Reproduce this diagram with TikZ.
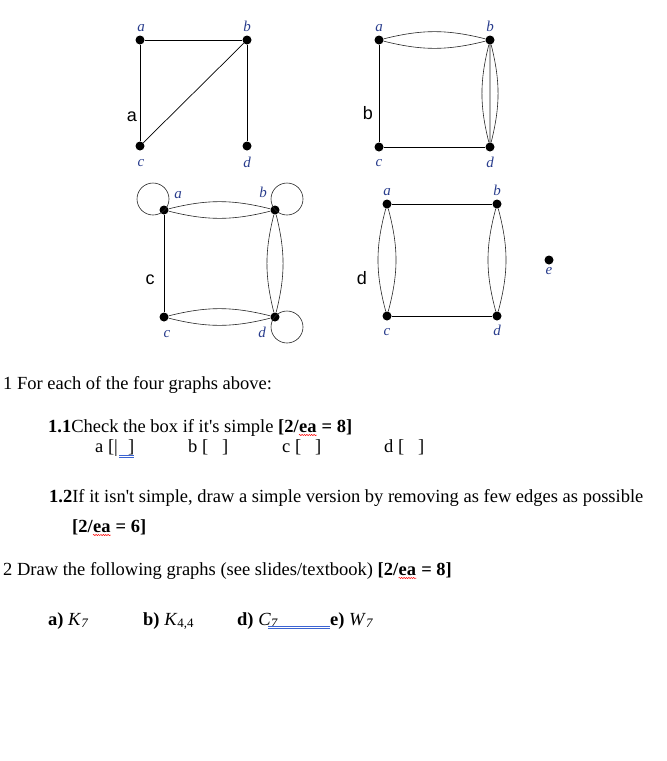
\documentclass[tikz,border=0pt]{standalone}
\usepackage{fontspec}
\setmainfont{Liberation Serif}
\newfontfamily\labelfont{Liberation Sans}
\usetikzlibrary{decorations.pathmorphing}
\definecolor{vlabel}{RGB}{40,60,140}
\definecolor{linkblue}{RGB}{60,100,210}

\tikzset{
  vertex/.style={circle,fill=black,inner sep=0pt,minimum size=9pt},
  vname/.style={font=\fontsize{15}{15}\selectfont\itshape,text=vlabel,inner sep=0pt},
  gname/.style={font=\labelfont\fontsize{18}{18}\selectfont,inner sep=0pt},
  plain/.style={line width=0.9pt},
  multi/.style={line width=0.6pt,draw=black!85},
  txt/.style={anchor=base west,inner sep=0pt,font=\fontsize{18.5}{22}\selectfont},
  uline/.style={linkblue,line width=0.6pt},
}
\newcommand{\spellerr}[1]{\tikz[baseline=(w.base)]{\node[inner sep=0pt] (w) {#1};
  \draw[red,line width=0.5pt,decorate,decoration={snake,amplitude=0.6pt,segment length=2.4pt}]
    ([yshift=-3pt]w.base west) -- ([yshift=-3pt]w.base east);}}

\begin{document}
\begin{tikzpicture}[x=1pt,y=-1pt]
\useasboundingbox (0,0) rectangle (667,761);
% graph a
\node[vertex] (a1) at (140,40) {}; \node[vertex] (b1) at (247,40) {};
\node[vertex] (c1) at (140,146) {}; \node[vertex] (d1) at (247,146) {};
\node[vname] at (141,28) {a}; \node[vname] at (247,26) {b};
\node[vname] at (141,163) {c}; \node[vname] at (247,162) {d};
\node[gname] (ga) at (132,117) {a};
\draw[plain] (c1) -- (a1) -- (b1) -- (d1);
\draw[plain,line width=0.7pt] (c1) -- (b1);
% graph b
\node[vertex] (a2) at (379,40) {}; \node[vertex] (b2) at (490,40) {};
\node[vertex] (c2) at (379,147) {}; \node[vertex] (d2) at (490,147) {};
\node[vname] at (379,28) {a}; \node[vname] at (490,26) {b};
\node[vname] at (379,163) {c}; \node[vname] at (490,162) {d};
\node[gname] (gb) at (368,113) {b};
\draw[plain] (a2) -- (c2) -- (d2);
\draw[multi] (a2) to[bend left=14] (b2) (a2) to[bend right=14] (b2);
\draw[multi] (b2) -- (d2) (b2) to[bend left=14] (d2) (b2) to[bend right=14] (d2);
% graph c
\node[vertex] (a3) at (164,210) {}; \node[vertex] (b3) at (275,210) {};
\node[vertex] (c3) at (164,317) {}; \node[vertex] (d3) at (275,317) {};
\node[vname] at (178,195) {a}; \node[vname] at (263,192) {b};
\node[vname] at (167,334) {c}; \node[vname] at (262,332) {d};
\node[gname] (gc) at (150,280) {c};
\draw[plain] (a3) -- (c3);
\draw[multi] (a3) to[bend left=14] (b3) (a3) to[bend right=14] (b3);
\draw[multi] (c3) to[bend left=14] (d3) (c3) to[bend right=14] (d3);
\draw[multi] (b3) to[bend left=14] (d3) (b3) to[bend right=14] (d3);
\draw[multi] ([shift={(-11,-11)}]a3.center) circle[radius=16];
\draw[multi] ([shift={(12,-11)}]b3.center) circle[radius=16];
\draw[multi] ([shift={(12,10)}]d3.center) circle[radius=16];
% graph d
\node[vertex] (a4) at (387,204) {}; \node[vertex] (b4) at (497,204) {};
\node[vertex] (c4) at (387,316) {}; \node[vertex] (d4) at (497,316) {};
\node[vertex] (e4) at (549,260) {};
\node[vname] at (387,192) {a}; \node[vname] at (497,190) {b};
\node[vname] at (387,332) {c}; \node[vname] at (497,330) {d};
\node[vname] at (549,271) {e};
\node[gname] (gd) at (362,278) {d};
\draw[plain] (a4) -- (b4) (c4) -- (d4);
\draw[multi] (a4) to[bend left=15] (c4) (a4) to[bend right=15] (c4);
\draw[multi] (b4) to[bend left=15] (d4) (b4) to[bend right=15] (d4);
% questions
\node[txt] (q1) at (3,389) {1 For each of the four graphs above:};
\node[txt] (q11) at (48,432) {\textbf{1.1}Check the box if it\textquotesingle s simple \textbf{[2/\spellerr{ea} = 8]}};
\node[txt] (boxa) at (95,452) {a [\textbar\hspace{0.55em}]};
\node[txt] (boxb) at (188,452) {b [\hspace{0.75em}]};
\node[txt] (boxc) at (282,452) {c [\hspace{0.75em}]};
\node[txt] (boxd) at (384,452) {d [\hspace{0.75em}]};
\draw[uline] ([xshift=-15pt,yshift=-3pt]boxa.base east) -- ([yshift=-3pt]boxa.base east)
  ([xshift=-15pt,yshift=-5pt]boxa.base east) -- ([yshift=-5pt]boxa.base east);
\node[txt] (q12) at (49,502) {\textbf{1.2}If it isn\textquotesingle t simple, draw a simple version by removing as few edges as possible};
\node[txt] (m12) at (72,532) {\textbf{[2/\spellerr{ea} = 6]}};
\node[txt] (q2) at (3,575) {2 Draw the following graphs (see slides/textbook) \textbf{[2/\spellerr{ea} = 8]}};
\node[txt] (ka) at (48,625) {\textbf{a)} \textit{K}\textsubscript{\itshape 7}};
\node[txt] (kb) at (143,625) {\textbf{b)} \textit{K}\textsubscript{4,4}};
\node[txt] (kd) at (237,625) {\textbf{d)} \textit{C}\textsubscript{\itshape 7}};
\node[txt] (ke) at (330,625) {\textbf{e)} \textit{W}\textsubscript{\itshape 7}};
\draw[uline] ([xshift=-10pt,yshift=-1pt]kd.base east) -- ([yshift=-1pt]ke.base west)
  ([xshift=-10pt,yshift=-3pt]kd.base east) -- ([yshift=-3pt]ke.base west);
\end{tikzpicture}
\end{document}
